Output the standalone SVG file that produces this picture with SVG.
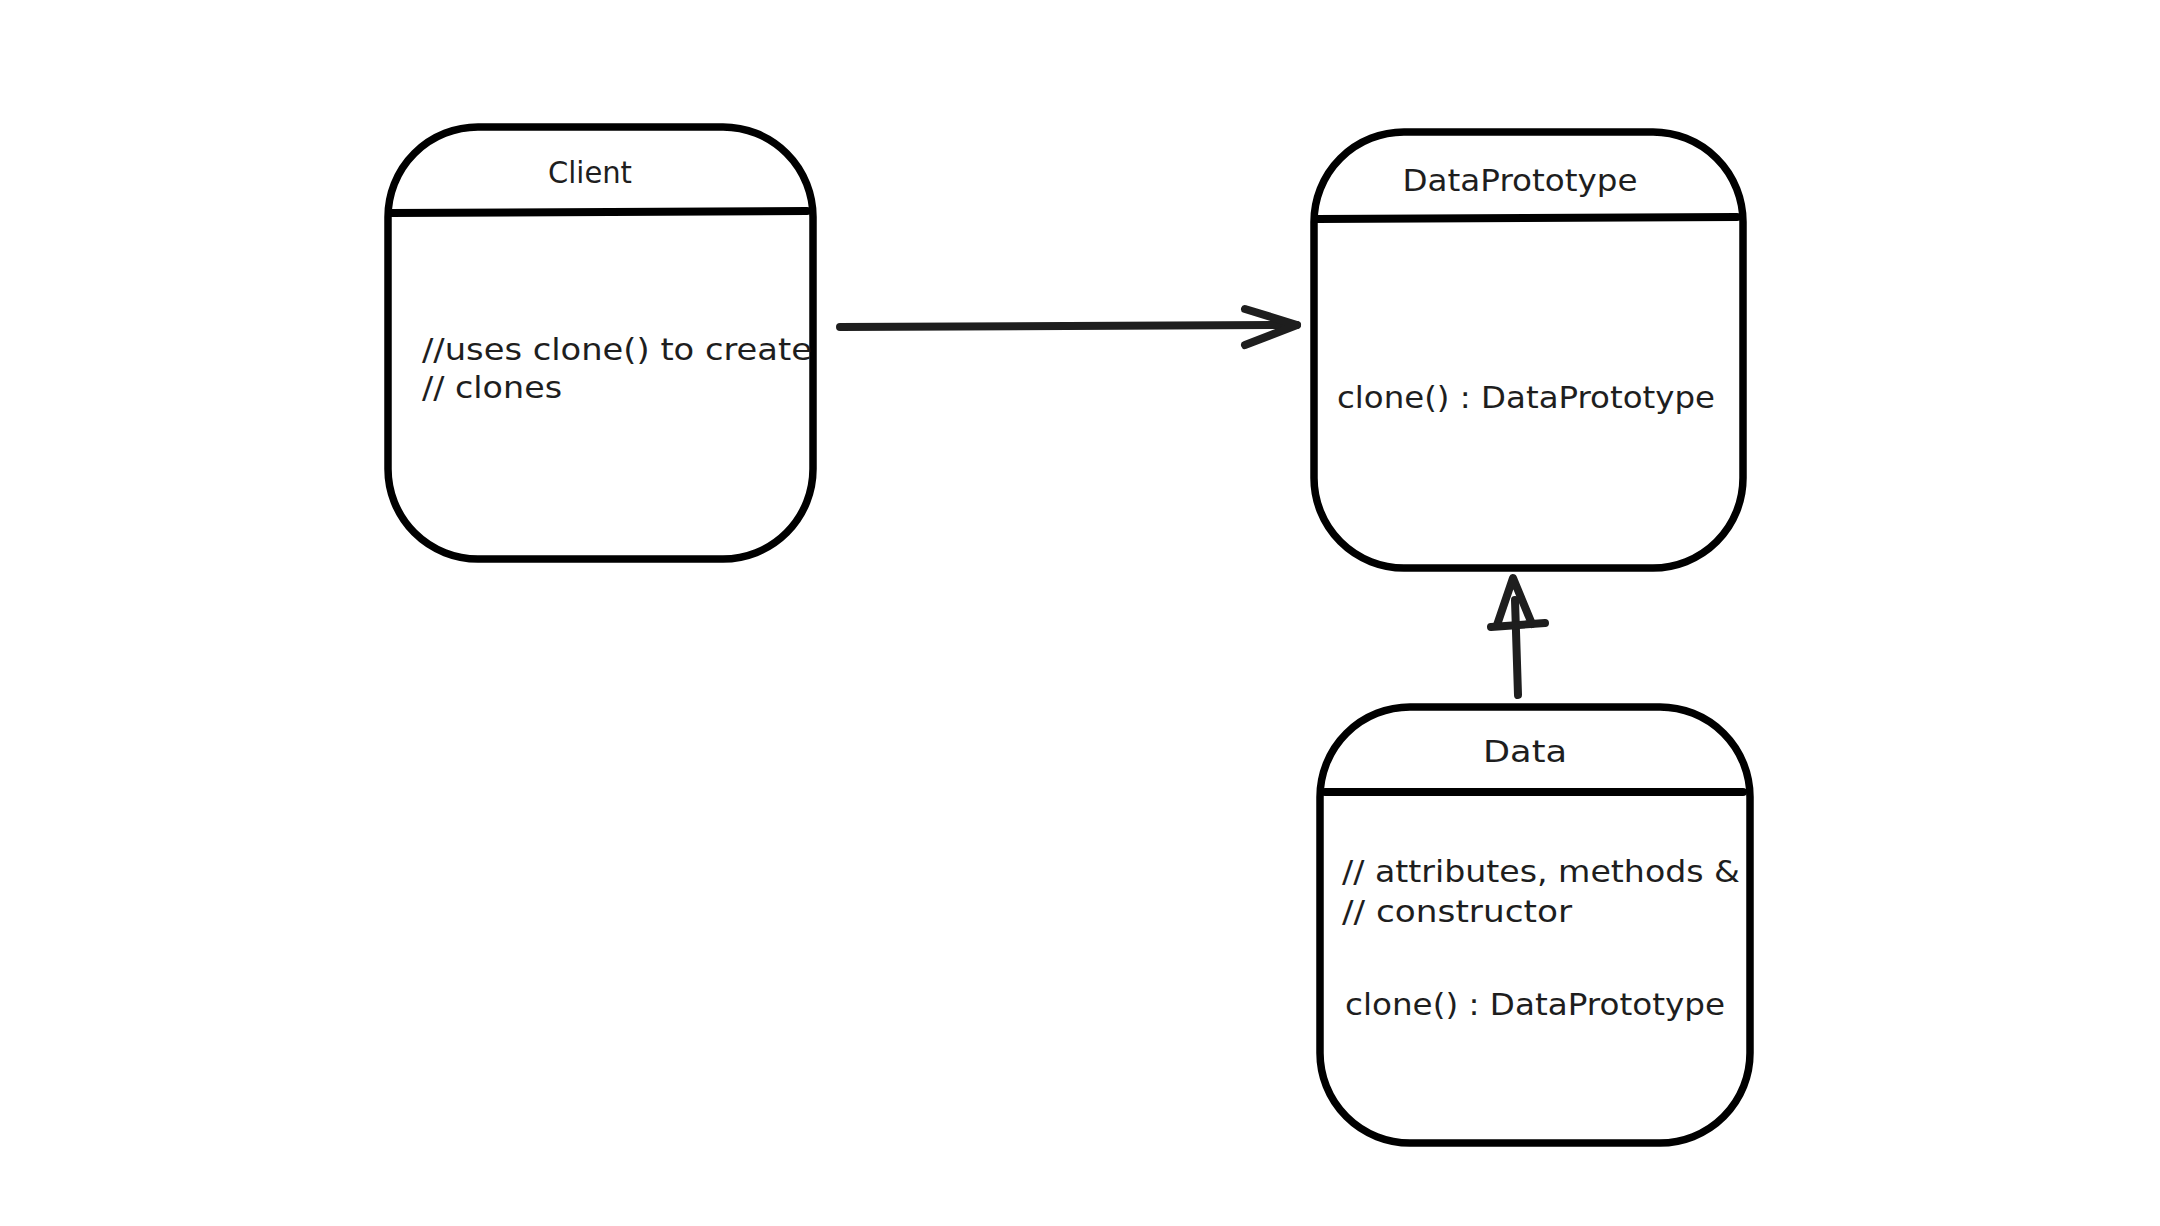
<svg xmlns="http://www.w3.org/2000/svg" width="2160" height="1226" viewBox="0 0 2160 1226">
  <style>
    .box { fill: #ffffff; stroke: #000000; stroke-width: 7.5; }
    .div { stroke: #000000; stroke-width: 8; stroke-linecap: round; fill: none; }
    .conn { stroke: #1e1e1e; stroke-width: 8; stroke-linecap: round; stroke-linejoin: round; fill: none; }
    text { font-family: "DejaVu Sans", "Liberation Sans", sans-serif; font-size: 30px; fill: #1e1e1e; }
    .title { text-anchor: middle; }
  </style>
  <rect width="2160" height="1226" fill="#ffffff"/>

  <g id="connectors">
    <path class="conn" d="M840 327 L1297 325"/>
    <path class="conn" d="M1245 309 L1297 325 L1245 345"/>
    <path class="conn" d="M1518 695 L1515 600"/>
    <path class="conn" d="M1497 625 L1513 578 L1532 624"/>
    <path class="conn" d="M1491 627 L1545 623"/>
  </g>

  <g id="client">
    <rect class="box" x="388" y="127" width="425" height="432" rx="90" ry="90"/>
    <path class="div" d="M390 213 L807 211"/>
    <text class="title" x="590" y="183" textLength="84" lengthAdjust="spacingAndGlyphs">Client</text>
    <text x="422" y="360" textLength="390" lengthAdjust="spacingAndGlyphs">//uses clone() to create</text>
    <text x="422" y="398" textLength="140" lengthAdjust="spacingAndGlyphs">// clones</text>
  </g>

  <g id="dataprototype">
    <rect class="box" x="1314" y="132" width="429" height="436" rx="90" ry="90"/>
    <path class="div" d="M1317 219 L1737 217"/>
    <text class="title" x="1520" y="191" textLength="235" lengthAdjust="spacingAndGlyphs">DataPrototype</text>
    <text x="1337" y="408" textLength="378" lengthAdjust="spacingAndGlyphs">clone() : DataPrototype</text>
  </g>

  <g id="data">
    <rect class="box" x="1320" y="707" width="430" height="436" rx="90" ry="90"/>
    <path class="div" d="M1325 792 L1743 792"/>
    <text class="title" x="1525" y="762" textLength="84" lengthAdjust="spacingAndGlyphs">Data</text>
    <text x="1342" y="882" textLength="398" lengthAdjust="spacingAndGlyphs">// attributes, methods &amp;</text>
    <text x="1342" y="922" textLength="230" lengthAdjust="spacingAndGlyphs">// constructor</text>
    <text x="1345" y="1015" textLength="380" lengthAdjust="spacingAndGlyphs">clone() : DataPrototype</text>
  </g>
</svg>
